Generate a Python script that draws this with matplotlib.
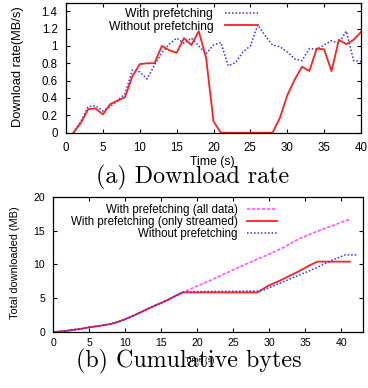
import matplotlib
matplotlib.use('Agg')
import matplotlib.pyplot as plt

plt.rcParams['font.family'] = ['Liberation Sans', 'DejaVu Sans']

# (a) download rate, one sample per second
t_rate = list(range(1, 41))
rate_with = [0, 0.13, 0.30, 0.31, 0.25, 0.30, 0.37, 0.45, 0.72, 0.70,
             0.62, 0.78, 0.92, 1.02, 1.09, 1.03, 1.09, 1.00, 0.91, 1.01,
             1.04, 0.77, 0.81, 0.93, 1.00, 1.24, 1.12, 1.01, 0.99, 0.93,
             0.85, 0.83, 0.97, 0.96, 1.01, 1.06, 1.03, 1.17, 0.83, 0.82]
rate_without = [0, 0.11, 0.27, 0.28, 0.21, 0.33, 0.37, 0.41, 0.65, 0.79,
                0.80, 0.80, 1.00, 0.95, 0.92, 1.09, 1.01, 1.17, 0.86, 0.13,
                0, 0, 0, 0, 0, 0, 0, 0, 0.17, 0.43,
                0.61, 0.76, 0.71, 0.97, 0.96, 0.71, 1.07, 1.02, 1.07, 1.16]

# (b) cumulative bytes
t_all = [0, 1, 2, 3, 4, 5, 6, 7, 8, 9, 10, 11, 12, 13, 14, 15, 16, 17, 18,
         20, 22, 25, 28, 30, 32, 34, 36, 38, 40, 41.3]
mb_all = [0, 0.08, 0.2, 0.35, 0.5, 0.7, 0.85, 1.0, 1.2, 1.5, 1.9, 2.35, 2.85,
          3.35, 3.85, 4.3, 4.8, 5.35, 5.85,
          6.8, 7.7, 9.2, 10.6, 11.5, 12.5, 13.7, 14.6, 15.4, 16.2, 16.7]
t_streamed = [0, 1, 2, 3, 4, 5, 6, 7, 8, 9, 10, 11, 12, 13, 14, 15, 16, 17, 18,
              28.4, 29.2, 30, 31.5, 33, 34, 35.7, 36.7, 41.2]
mb_streamed = [0, 0.08, 0.2, 0.35, 0.5, 0.7, 0.85, 1.0, 1.2, 1.5, 1.9, 2.35, 2.85,
               3.35, 3.85, 4.3, 4.8, 5.35, 5.85,
               5.85, 6.4, 6.9, 7.6, 8.4, 8.9, 9.9, 10.4, 10.4]
t_nopref = [0, 1, 2, 3, 4, 5, 6, 7, 8, 9, 10, 11, 12, 13, 14, 15, 16, 17, 18,
            28.4, 29.2, 31.5, 33.7, 36.4, 38.7, 40.6, 42.2]
mb_nopref = [0, 0.08, 0.2, 0.35, 0.5, 0.7, 0.85, 1.0, 1.2, 1.5, 1.9, 2.35, 2.85,
             3.35, 3.85, 4.3, 4.8, 5.35, 5.95,
             6.05, 6.2, 7.2, 8.2, 9.4, 10.6, 11.4, 11.4]

W, H = 368, 388
fig = plt.figure(figsize=(W / 100, H / 100), dpi=100)


def px_axes(l, t, r, b):
    return fig.add_axes([l / W, 1 - b / H, (r - l) / W, (b - t) / H])


def style(ax, fs, pad_x, pad_y):
    ax.tick_params(direction='in', top=True, right=True, length=3, width=0.8,
                   labelsize=fs)
    ax.tick_params(axis='x', pad=pad_x)
    ax.tick_params(axis='y', pad=pad_y)
    for s in ax.spines.values():
        s.set_linewidth(0.9)


red = '#ff2020'
blue = '#3030ff'
magenta = '#ff55ff'

# ---- top plot
ax1 = px_axes(66, 2.5, 361, 132.7)
ax1.plot(t_rate, rate_with, color=blue, lw=1.1, ls=(0, (1, 1.3)), label='With prefetching')
ax1.plot(t_rate, rate_without, color=red, lw=1.3, label='Without prefetching')
ax1.set_xlim(0, 40)
ax1.set_ylim(0, 1.5)
ax1.set_xticks(range(0, 41, 5))
ax1.set_yticks([0, 0.2, 0.4, 0.6, 0.8, 1.0, 1.2, 1.4])
ax1.set_yticklabels(['0', '0.2', '0.4', '0.6', '0.8', '1', '1.2', '1.4'])
style(ax1, 8.3, 6.5, 6)
ax1.legend(loc='upper right', bbox_to_anchor=(258 / W, 1 - 8 / H),
           bbox_transform=fig.transFigure, frameon=False, markerfirst=False,
           fontsize=8.7, handlelength=2.7, handletextpad=1.0,
           borderpad=0, borderaxespad=0, labelspacing=0.05)
fig.text(212 / W, 1 - 161.5 / H, 'Time (s)', fontsize=8.8, ha='center', va='center')
fig.text(18 / W, 1 - 67 / H, 'Download rate(MB/s)', fontsize=9.3, rotation=90,
         ha='center', va='center')
fig.text(193 / W, 1 - 183 / H, '(a) Download rate', family='cmr10', fontsize=17.3,
         ha='center', va='baseline')

# ---- bottom plot
ax2 = px_axes(53.4, 196.7, 362.7, 332)
ax2.plot(t_all, mb_all, color=magenta, lw=1.2, ls=(0, (2, 1)),
         label='With prefetching (all data)')
ax2.plot(t_streamed, mb_streamed, color=red, lw=1.3,
         label='With prefetching (only streamed)')
ax2.plot(t_nopref, mb_nopref, color=blue, lw=1.1, ls=(0, (1, 1.3)),
         label='Without prefetching')
ax2.set_xlim(0, 43)
ax2.set_ylim(0, 20)
ax2.set_xticks(range(0, 41, 5))
ax2.set_yticks(range(0, 21, 5))
style(ax2, 7.6, 4, 6)
ax2.legend(loc='upper right', bbox_to_anchor=(277 / W, 1 - 204.5 / H),
           bbox_transform=fig.transFigure, frameon=False, markerfirst=False,
           fontsize=8.3, handlelength=2.6, handletextpad=0.8,
           borderpad=0, borderaxespad=0, labelspacing=0.0)
fig.text(200 / W, 1 - 360 / H, 'Time (s)', fontsize=5.9, ha='center', va='center')
fig.text(15 / W, 1 - 263 / H, 'Total downloaded (MB)', fontsize=7.9, rotation=90,
         ha='center', va='center')
fig.text(189 / W, 1 - 367 / H, '(b) Cumulative bytes', family='cmr10', fontsize=17.3,
         ha='center', va='baseline')

fig.savefig('out.png', dpi=100)
